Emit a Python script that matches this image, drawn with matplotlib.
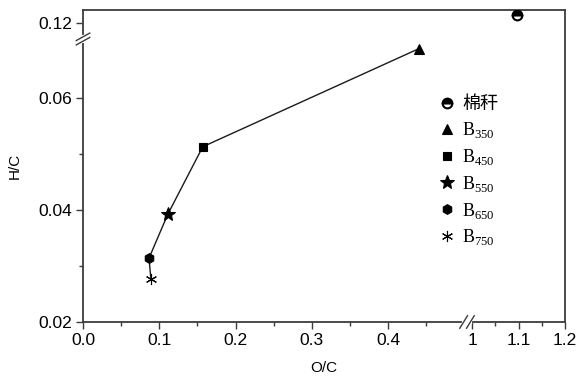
import numpy as np
import matplotlib
matplotlib.use("Agg")
import matplotlib.pyplot as plt
from matplotlib.lines import Line2D

plt.rcParams['font.family'] = ['Liberation Sans', 'DejaVu Sans']
plt.rcParams['mathtext.fontset'] = 'custom'
plt.rcParams['mathtext.rm'] = 'Liberation Serif'

# dati
labels = ['棉秆', 'B$_{350}$', 'B$_{450}$', 'B$_{550}$', 'B$_{650}$', 'B$_{750}$']
oc = [1.097, 0.440, 0.157, 0.111, 0.0865, 0.089]
hc = [0.1224, 0.0688, 0.0513, 0.0392, 0.0314, 0.0277]
markers = ['o', '^', 's', '*', 'h', (6, 2, 0)]
msizes = [7, 7, 5.5, 10, 7, 8]

xticks = [0.0, 0.1, 0.2, 0.3, 0.4, 1.0, 1.1, 1.2]
xticklabels = ['0.0', '0.1', '0.2', '0.3', '0.4', '1', '1.1', '1.2']
yticks = [0.02, 0.04, 0.06, 0.12]
yticklabels = ['0.02', '0.04', '0.06', '0.12']

# scale spezzate (asse rotto)
xp = [-10, 0.5, 1.0, 10]
xf = [-10, 0.5, 0.51, 0.51 + 9 * 0.609]
yp = [-10, 0.07, 0.115, 10]
yf = [-10, 0.07, 0.0705, 0.0705 + (10 - 0.115) * 0.58]

def fx(v):
    return np.interp(v, xp, xf)

def ix(v):
    return np.interp(v, xf, xp)

def fy(v):
    return np.interp(v, yp, yf)

def iy(v):
    return np.interp(v, yf, yp)

fig = plt.figure(figsize=(5.85, 3.8), dpi=100)
ax = fig.add_axes([83 / 585, 1 - 322 / 380, (565 - 83) / 585, (322 - 10) / 380])
ax.set_xscale('function', functions=(fx, ix))
ax.set_yscale('function', functions=(fy, iy))
ax.set_xlim(0, 1.2)
ax.set_ylim(0.02, 0.124)

# linea che collega i campioni B
ax.plot(oc[1:], hc[1:], color='#1a1a1a', lw=1.0, zorder=2)

handles = []
for i in range(len(labels)):
    if i == 0:
        ax.plot(oc[i], hc[i], marker='o', ms=msizes[i], mfc='black', mfcalt='white',
                fillstyle='top', mec='black', mew=1.5, ls='none', zorder=3)
        h = Line2D([], [], marker='o', ms=msizes[i], mfc='black', mfcalt='white',
                   fillstyle='top', mec='black', mew=1.5, ls='none')
    else:
        ax.plot(oc[i], hc[i], marker=markers[i], ms=msizes[i], color='black',
                mew=0.8, ls='none', zorder=3)
        h = Line2D([], [], marker=markers[i], ms=msizes[i], color='black',
                   mew=0.8, ls='none')
    handles.append(h)

leg = ax.legend(handles, labels, loc='upper left', bbox_to_anchor=(0.70, 0.776),
                frameon=False, handletextpad=0.2, labelspacing=0.38, handlelength=1.2,
                prop={'family': ['Liberation Serif', 'Noto Sans CJK SC'], 'size': 13})

ax.set_xticks(xticks)
ax.set_xticklabels(xticklabels)
ax.set_xticks([0.05, 0.15, 0.25, 0.35, 0.45, 1.05, 1.15], minor=True)
ax.set_yticks(yticks)
ax.set_yticklabels(yticklabels)
ax.set_yticks([0.03, 0.05], minor=True)

spine_col = '#3c3c3c'
for s in ax.spines.values():
    s.set_color(spine_col)
    s.set_linewidth(1.3)
ax.tick_params(which='major', direction='out', length=5, width=1.0, color=spine_col,
               labelsize=12.5, pad=3)
ax.tick_params(which='minor', direction='out', length=3, width=1.0, color=spine_col)
ax.tick_params(top=False, right=False, which='both')

ax.set_xlabel('O/C', fontsize=11, labelpad=9)
ax.set_ylabel('H/C', fontsize=11, labelpad=12)

# segni di interruzione
def brk(xc, yc, dx, dy, gap_x, gap_y):
    for k in (-1, 1):
        ox = k * gap_x
        oy = k * gap_y
        ax.plot([xc - dx + ox, xc + dx + ox], [yc - dy + oy, yc + dy + oy],
                transform=ax.transAxes, color=spine_col, lw=1.0, clip_on=False, zorder=5)

# spazio bianco sull'asse y
yb = (322 - 39) / 312
ax.plot([0, 0], [yb - 0.006, yb + 0.006], transform=ax.transAxes, color='white',
        lw=3, clip_on=False, zorder=4)
brk(0.0, yb, 0.014, 0.012, 0.0, 0.007)

xb = (467 - 83) / 482
ax.plot([xb - 0.006, xb + 0.006], [0, 0], transform=ax.transAxes, color='white',
        lw=3, clip_on=False, zorder=4)
brk(xb, 0.0, 0.008, 0.02, 0.007, 0.0)

fig.savefig('out.png', dpi=100, facecolor='white')
